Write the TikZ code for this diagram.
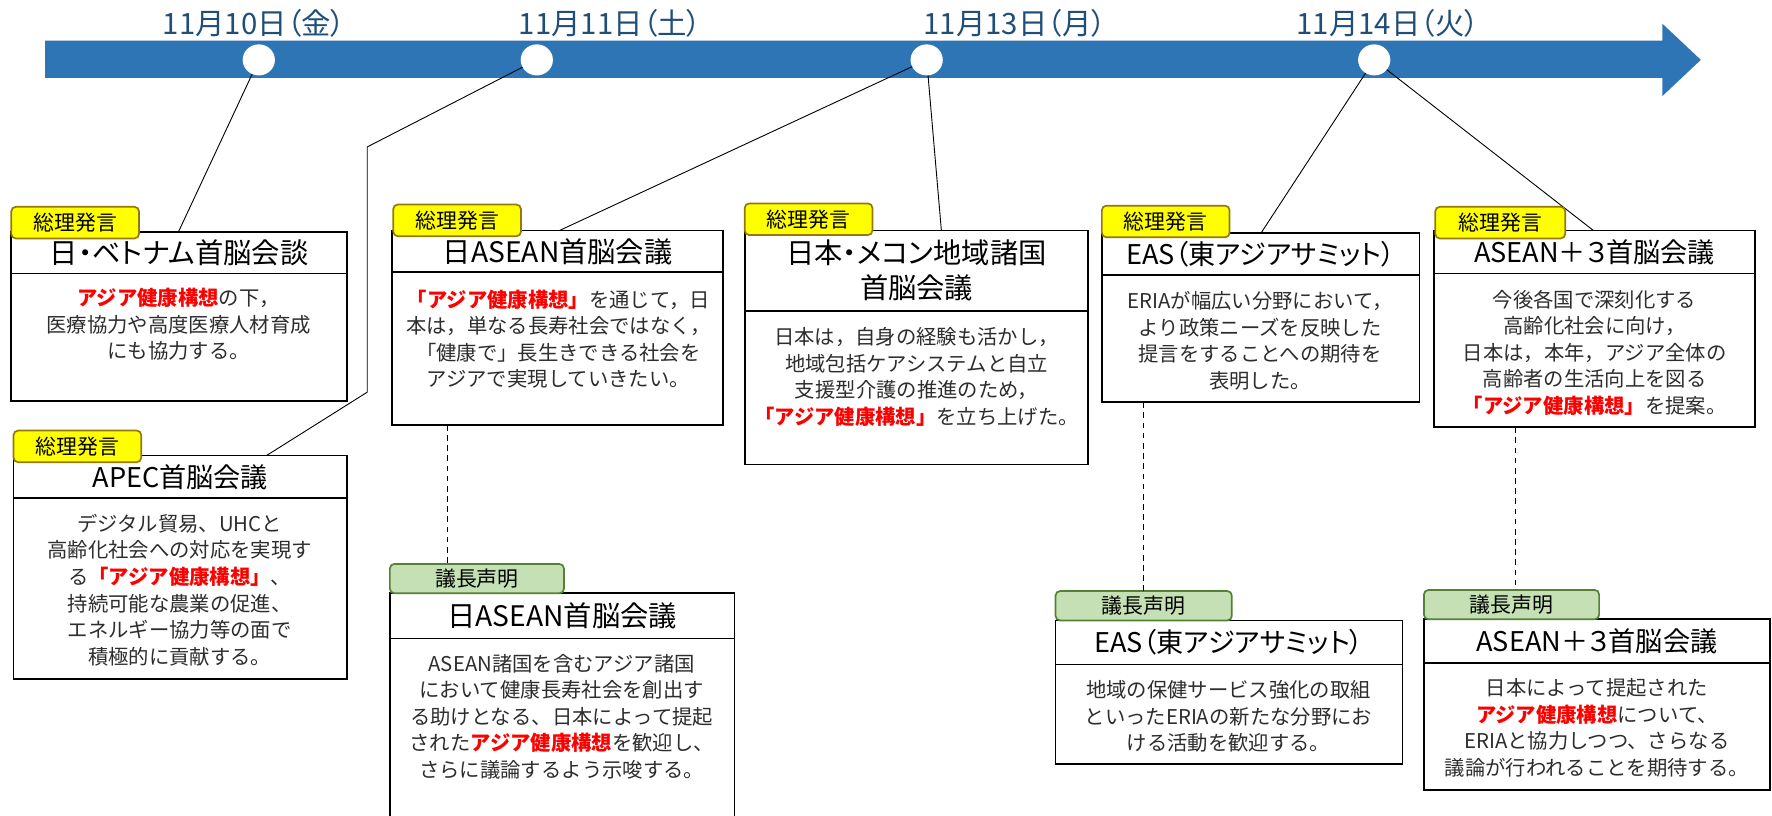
\documentclass[tikz,border=0pt]{standalone}
\usepackage{fontspec}
\setmainfont{Noto Sans CJK JP}
\newfontfamily\paltfont[RawFeature=+palt]{Noto Sans CJK JP}
\usetikzlibrary{shapes.geometric,calc}
\definecolor{bandblue}{RGB}{46,117,182}
\definecolor{datecol}{RGB}{31,78,121}
\definecolor{ytagfill}{RGB}{255,255,0}
\definecolor{ytagborder}{RGB}{150,120,10}
\definecolor{gtagfill}{RGB}{197,224,180}
\definecolor{gtagborder}{RGB}{84,130,53}
\definecolor{hlred}{RGB}{255,0,0}
\definecolor{bodycol}{RGB}{45,45,45}
\newcommand{\redkw}[1]{\textcolor{hlred}{\bfseries #1}}
\begin{document}
\begin{tikzpicture}[x=1pt,y=-1pt,
  every node/.style={inner sep=0pt, outer sep=0pt},
  datelbl/.style={text=datecol, font=\paltfont\fontsize{26}{30}\selectfont},
  dot/.style={ellipse, fill=white, minimum width=28.5, minimum height=27.5},
  titlebox/.style={draw=black, line width=1.6pt, fill=white, anchor=north west, align=center, font=\paltfont\fontsize{24}{31}\selectfont},
  bodybox/.style={draw=black, line width=1.6pt, fill=white, anchor=north west},
  bodytext/.style={align=center, text=bodycol, font=\fontsize{18}{23.5}\selectfont},
  ytag/.style={draw=ytagborder, fill=ytagfill, line width=1.5pt, rounded corners=4pt, anchor=north west, font=\fontsize{18.5}{20}\selectfont, minimum width=113, minimum height=28},
  gtag/.style={draw=gtagborder, fill=gtagfill, line width=1.5pt, rounded corners=4pt, anchor=north west, font=\fontsize{18.5}{20}\selectfont, minimum width=155, minimum height=26},
  conn/.style={draw=black, line width=0.8pt},
  dashline/.style={draw=black, line width=0.9pt, dash pattern=on 5pt off 4pt},
]
\useasboundingbox (0,0) rectangle (1568,722);

% timeline
\fill[bandblue] (40,36) -- (1471,36) -- (1471,21) -- (1505,53) -- (1471,85) -- (1471,69) -- (40,69) -- cycle;
\node[dot] (c1) at (229,53) {};
\node[dot] (c2) at (475,53) {};
\node[dot] (c3) at (820,53) {};
\node[dot] (c4) at (1216,53) {};
\node[datelbl] (d1) at (225,21) {11月10日（金）};
\node[datelbl] (d2) at (540,21) {11月11日（土）};
\node[datelbl] (d3) at (898,21) {11月13日（月）};
\node[datelbl] (d4) at (1228,21) {11月14日（火）};

% connectors
\coordinate (p1) at (158,205);
\draw[conn] (c1) -- (p1);
\coordinate (k1) at (325,130);
\coordinate (k2) at (325,347);
\coordinate (p2) at (236,403);
\draw[conn] (c2) -- (k1) -- (k2) -- (p2);
\coordinate (p3) at (495,204);
\draw[conn] (c3) -- (p3);
\coordinate (p5) at (833,204);
\draw[conn] (c3) -- (p5);
\coordinate (p6) at (1116,206);
\draw[conn] (c4) -- (p6);
\coordinate (p7) at (1410,204);
\draw[conn] (c4) -- (p7);

% Box 1
\node[bodybox, minimum width=297, minimum height=113] (b1) at (10,242) {};
\node[titlebox, minimum width=297, minimum height=37, font=\paltfont\fontsize{25}{30}\selectfont] (t1) at (10,205) {日・ベトナム首脳会談};
\node[ytag] (g1) at (10,183) {総理発言};
\node[bodytext] (bt1) at (158,287) {\redkw{アジア健康構想}の下，\\医療協力や高度医療人材育成\\にも協力する。};

% Box 2
\node[bodybox, minimum width=295, minimum height=160] (b2) at (12,441) {};
\node[titlebox, minimum width=295, minimum height=38] (t2) at (12,403) {APEC首脳会議};
\node[ytag] (g2) at (12,381) {総理発言};
\node[bodytext] (bt2) at (159,522) {デジタル貿易、UHCと\\高齢化社会への対応を実現す\\る\redkw{「アジア健康構想」}、\\持続可能な農業の促進、\\エネルギー協力等の面で\\積極的に貢献する。};

% Box 3
\node[bodybox, minimum width=293, minimum height=135] (b3) at (347,241) {};
\node[titlebox, minimum width=293, minimum height=37, font=\paltfont\fontsize{25}{30}\selectfont] (t3) at (347,204) {日ASEAN首脳会議};
\node[ytag] (g3) at (348,181) {総理発言};
\node[bodytext] (bt3) at (494,300) {\redkw{「アジア健康構想」}を通じて，日\\本は，単なる長寿社会ではなく，\\「健康で」長生きできる社会を\\アジアで実現していきたい。};

% Box 4
\node[bodybox, minimum width=305, minimum height=180] (b4) at (345,565) {};
\node[titlebox, minimum width=305, minimum height=40, font=\paltfont\fontsize{25}{30}\selectfont] (t4) at (345,525) {日ASEAN首脳会議};
\node[gtag, minimum width=154] (gt4) at (345,499) {議長声明};
\node[bodytext] (bt4) at (497,634) {ASEAN諸国を含むアジア諸国\\において健康長寿社会を創出す\\る助けとなる、日本によって提起\\された\redkw{アジア健康構想}を歓迎し、\\さらに議論するよう示唆する。};

% Box 5
\node[bodybox, minimum width=304, minimum height=136] (b5) at (659,275) {};
\node[titlebox, minimum width=304, minimum height=71, font=\paltfont\fontsize{25}{31}\selectfont] (t5) at (659,204) {日本・メコン地域諸国\\首脳会議};
\node[ytag] (g5) at (659,180) {総理発言};
\node[bodytext] (bt5) at (811,333.5) {日本は，自身の経験も活かし，\\地域包括ケアシステムと自立\\支援型介護の推進のため，\\\redkw{「アジア健康構想」}を立ち上げた。};

% Box 6
\node[bodybox, minimum width=281, minimum height=113] (b6) at (975,243) {};
\node[titlebox, minimum width=281, minimum height=37] (t6) at (975,206) {EAS（東アジアサミット）};
\node[ytag] (g6) at (975,182) {総理発言};
\node[bodytext] (bt6) at (1115,301.5) {ERIAが幅広い分野において，\\より政策ニーズを反映した\\提言をすることへの期待を\\表明した。};

% Box 7
\node[bodybox, minimum width=284, minimum height=136] (b7) at (1269,242) {};
\node[titlebox, minimum width=284, minimum height=38] (t7) at (1269,204) {ASEAN＋３首脳会議};
\node[ytag, minimum width=115] (g7) at (1270,183) {総理発言};
\node[bodytext] (bt7) at (1411,312) {今後各国で深刻化する\\高齢化社会に向け，\\日本は，本年，アジア全体の\\高齢者の生活向上を図る\\\redkw{「アジア健康構想」}を提案。};

% Box 8
\node[bodybox, minimum width=307, minimum height=88] (b8) at (934,588) {};
\node[titlebox, minimum width=307, minimum height=39] (t8) at (934,549) {EAS（東アジアサミット）};
\node[gtag, minimum width=156] (gt8) at (934,523) {議長声明};
\node[bodytext] (bt8) at (1087,634) {地域の保健サービス強化の取組\\といったERIAの新たな分野にお\\ける活動を歓迎する。};

% Box 9
\node[bodybox, minimum width=306, minimum height=112] (b9) at (1260,587) {};
\node[titlebox, minimum width=306, minimum height=39] (t9) at (1260,548) {ASEAN＋３首脳会議};
\node[gtag, minimum width=155] (gt9) at (1260,522) {議長声明};
\node[bodytext] (bt9) at (1413,644) {日本によって提起された\\\redkw{アジア健康構想}について、\\ERIAと協力しつつ、さらなる\\議論が行われることを期待する。};

% dashed links
\coordinate (q3) at (396,0);
\draw[dashline] (q3 |- b3.south) -- (q3 |- gt4.north);
\coordinate (q6) at (1012,0);
\draw[dashline] (q6 |- b6.south) -- (q6 |- gt8.north);
\coordinate (q7) at (1341,0);
\draw[dashline] (q7 |- b7.south) -- (q7 |- gt9.north);
\end{tikzpicture}
\end{document}
